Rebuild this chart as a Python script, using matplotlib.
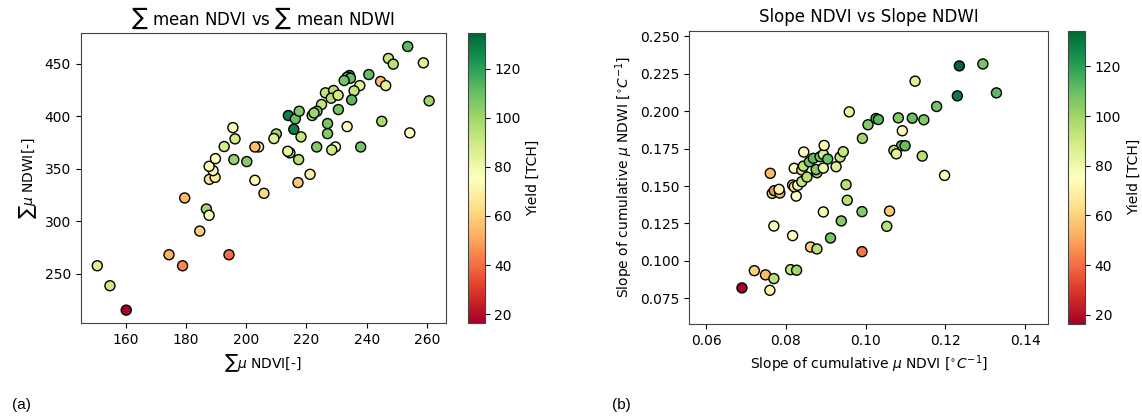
import matplotlib
matplotlib.use("Agg")
import matplotlib.pyplot as plt
import numpy as np

# ---- (a) cumulative mean NDVI vs cumulative mean NDWI ----
sum_ndvi = [150.6, 154.8, 160.2, 174.4, 178.9, 194.3, 179.6, 184.6, 186.8, 187.7,
            187.8, 189.7, 189.0, 187.7, 189.8, 192.7, 195.6, 196.3, 195.9, 200.2,
            204.1, 202.9, 202.9, 205.9, 210.0, 209.2, 214.0, 216.3, 217.6, 215.8,
            218.2, 214.5, 213.8, 217.4, 217.2, 221.2, 223.4, 229.6, 228.4, 227.0,
            227.0, 233.5, 238.0, 245.0, 254.3, 260.7, 258.8, 253.6, 247.2, 248.8,
            244.6, 246.3, 240.7, 234.3, 233.5, 234.6, 232.5, 237.7, 235.8, 235.0,
            230.6, 226.3, 229.0, 228.2, 230.5, 225.0, 223.5, 221.9, 222.5]
sum_ndwi = [257.6, 238.6, 215.4, 268.1, 257.6, 268.1, 322.1, 290.6, 311.6, 305.6,
            339.8, 341.7, 348.1, 352.2, 359.5, 371.0, 389.0, 378.3, 358.6, 356.7,
            370.6, 370.6, 338.9, 326.5, 383.0, 378.6, 400.5, 397.3, 404.6, 387.4,
            380.2, 365.0, 366.5, 358.6, 336.7, 344.6, 370.6, 370.6, 367.8, 383.3,
            392.9, 390.0, 370.6, 395.0, 384.0, 414.5, 450.6, 466.2, 454.8, 449.4,
            432.9, 429.0, 439.5, 438.6, 437.0, 436.0, 433.8, 429.0, 424.0, 415.4,
            406.2, 422.1, 424.3, 417.0, 419.8, 411.0, 404.6, 400.5, 403.0]
yield_a = [86, 90, 16.3, 52, 45, 40, 55, 60, 100, 78,
           65, 68, 72, 74, 75, 88, 78, 88, 102, 105,
           72, 55, 72, 62, 100, 85, 128, 110, 105, 128,
           92, 90, 82, 95, 58, 70, 105, 75, 90, 105,
           108, 75, 108, 98, 75, 100, 85, 112, 92, 95,
           55, 85, 110, 122, 112, 110, 108, 85, 92, 112,
           108, 92, 95, 95, 88, 92, 105, 95, 100]

# ---- (b) slope of cumulative NDVI vs slope of cumulative NDWI ----
slope_ndvi = [0.0690, 0.0721, 0.0749, 0.0770, 0.0760, 0.0812, 0.0827, 0.0770, 0.0817, 0.0862,
              0.0878, 0.0912, 0.0939, 0.0894, 0.0954, 0.0951, 0.0991, 0.0991, 0.0992, 0.0959,
              0.0761, 0.0766, 0.0771, 0.0785, 0.0783, 0.0826, 0.0817, 0.0821, 0.0830, 0.0821,
              0.0840, 0.0844, 0.0845, 0.0840, 0.0853, 0.0859, 0.0869, 0.0878, 0.0876, 0.0886,
              0.0894, 0.0896, 0.0905, 0.0894, 0.0926, 0.0936, 0.0944, 0.1006, 0.1026, 0.1032,
              0.1082, 0.1117, 0.1146, 0.1092, 0.1090, 0.1099, 0.1071, 0.1077, 0.1142, 0.1198,
              0.1124, 0.1178, 0.1235, 0.1230, 0.1294, 0.1328, 0.1060, 0.1053]
slope_ndwi = [0.0820, 0.0935, 0.0907, 0.0882, 0.0804, 0.0942, 0.0938, 0.1233, 0.1169, 0.1093,
              0.1080, 0.1153, 0.1267, 0.1327, 0.1405, 0.1509, 0.1329, 0.1062, 0.1818, 0.1995,
              0.1585, 0.1451, 0.1469, 0.1453, 0.1478, 0.1433, 0.1507, 0.1495, 0.1505, 0.1618,
              0.1607, 0.1633, 0.1727, 0.1529, 0.1560, 0.1662, 0.1685, 0.1589, 0.1610, 0.1696,
              0.1711, 0.1771, 0.1680, 0.1620, 0.1629, 0.1693, 0.1729, 0.1909, 0.1951, 0.1944,
              0.1955, 0.1953, 0.1942, 0.1869, 0.1769, 0.1769, 0.1738, 0.1715, 0.1700, 0.1571,
              0.2200, 0.2031, 0.2302, 0.2102, 0.2315, 0.2122, 0.1333, 0.1231]
yield_b = [16.3, 60, 55, 95, 72, 92, 100, 78, 75, 60,
           95, 108, 105, 78, 95, 95, 105, 42, 100, 82,
           55, 92, 47, 55, 72, 75, 62, 63, 75, 75,
           62, 95, 75, 92, 95, 108, 112, 98, 105, 108,
           88, 78, 110, 80, 85, 92, 92, 105, 112, 112,
           105, 110, 105, 72, 110, 110, 95, 85, 95, 75,
           85, 108, 134.4, 130, 108, 112, 58, 95]

W, H = 1142, 418
fig = plt.figure(figsize=(W / 100, H / 100), dpi=100)


def box(x0, y0, x1, y1):
    """Pixel box (left, top, right, bottom) to figure fraction rect."""
    return [x0 / W, 1 - y1 / H, (x1 - x0) / W, (y1 - y0) / H]


vmin = min(min(yield_a), min(yield_b))
vmax = max(max(yield_a), max(yield_b))
marker = dict(cmap="RdYlGn", vmin=vmin, vmax=vmax, s=52,
              edgecolors="black", linewidths=1.0, zorder=3)

ax1 = fig.add_axes(box(80.7, 33.3, 445.7, 323.3))
sc1 = ax1.scatter(sum_ndvi, sum_ndwi, c=yield_a, **marker)
ax1.set_title(r"$\sum$ mean NDVI vs $\sum$ mean NDWI", fontsize=12)
ax1.set_xlabel(r"$\sum\mu$ NDVI[-]", fontsize=10)
ax1.set_ylabel(r"$\sum\mu$ NDWI[-]", fontsize=10)
ax1.set_xticks([160, 180, 200, 220, 240, 260])
ax1.set_yticks([250, 300, 350, 400, 450])
cax1 = fig.add_axes(box(468.3, 33.3, 484.5, 323.3))
cb1 = fig.colorbar(sc1, cax=cax1)
cb1.set_label("Yield [TCH]")

ax2 = fig.add_axes(box(689.3, 30.7, 1048.3, 324.0))
sc2 = ax2.scatter(slope_ndvi, slope_ndwi, c=yield_b, **marker)
ax2.set_xlim(0.0558, 0.1458)
ax2.set_ylim(0.0579, 0.2537)
ax2.set_title("Slope NDVI vs Slope NDWI", fontsize=12)
ax2.set_xlabel(r"Slope of cumulative $\mu$ NDVI [$^{\circ}C^{-1}$]", fontsize=10)
ax2.set_ylabel(r"Slope of cumulative $\mu$ NDWI [$^{\circ}C^{-1}$]", fontsize=10)
ax2.set_xticks([0.06, 0.08, 0.10, 0.12, 0.14])
ax2.set_yticks([0.075, 0.100, 0.125, 0.150, 0.175, 0.200, 0.225, 0.250])
ax2.yaxis.set_major_formatter(matplotlib.ticker.FormatStrFormatter("%.3f"))
ax2.xaxis.set_major_formatter(matplotlib.ticker.FormatStrFormatter("%.2f"))
cax2 = fig.add_axes(box(1068.0, 30.7, 1085.0, 324.0))
cb2 = fig.colorbar(sc2, cax=cax2)
cb2.set_label("Yield [TCH]")

for a in (ax1, ax2, cax1, cax2):
    for sp in a.spines.values():
        sp.set_edgecolor("#444444")

fig.text(12 / W, 1 - 405 / H, "(a)", family="Liberation Sans", fontsize=11, va="center")
fig.text(612 / W, 1 - 405 / H, "(b)", family="Liberation Sans", fontsize=11, va="center")

fig.savefig("out.png", dpi=100)
